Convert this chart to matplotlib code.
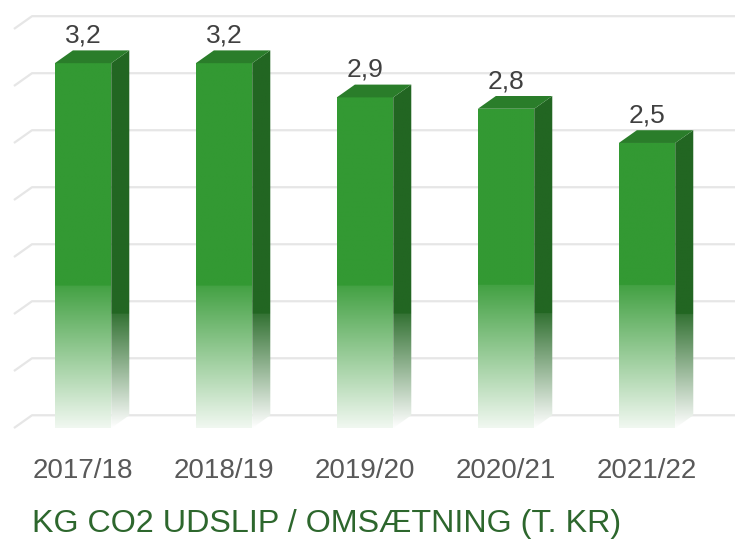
import matplotlib.pyplot as plt
import numpy as np
from matplotlib.patches import Polygon

periods = ["2017/18", "2018/19", "2019/20", "2020/21", "2021/22"]
co2_per_turnover = [3.2, 3.2, 2.9, 2.8, 2.5]
value_labels = ["3,2", "3,2", "2,9", "2,8", "2,5"]
grid_values = [0, 0.5, 1.0, 1.5, 2.0, 2.5, 3.0, 3.5]
title = "KG CO2 UDSLIP / OMSÆTNING (T. KR)"

plt.rcParams['font.family'] = ['Liberation Sans', 'DejaVu Sans']

front_col = np.array([0x33, 0x99, 0x33]) / 255
side_col = np.array([0x22, 0x66, 0x22]) / 255
top_col = np.array([0x2a, 0x7d, 0x2a]) / 255
white = np.array([1.0, 1.0, 1.0])

bar_w = 0.4
dx, dy = 0.128, 0.112      # fake depth of the 3d bars, in data units
wall_left = -0.362


def fade(color, ys, start, floor, top_a=0.92):
    t = np.clip(ys / start, 0, 1)
    a = np.where(t >= 1, 1.0, floor + (top_a - floor) * t)
    rgb = white[None, :] * (1 - a[:, None]) + color[None, :] * a[:, None]
    return rgb[:, None, :]


fig = plt.figure(figsize=(7.35, 5.4), dpi=100)
ax = fig.add_axes([0, 0, 1, 1])
ax.axis("off")

# back wall gridlines
for g in grid_values:
    ax.plot([wall_left - dx, wall_left, 4.7], [g, g + dy, g + dy],
            color="#e6e6e6", lw=1.6, zorder=1, solid_capstyle="butt")

for i, v in enumerate(co2_per_turnover):
    x0, x1 = i - bar_w / 2, i + bar_w / 2
    ys = np.linspace(0, v + dy, 400)

    side = Polygon([(x1, 0), (x1 + dx, dy), (x1 + dx, v + dy), (x1, v)],
                   closed=True, fc="none", ec="none")
    ax.add_patch(side)
    im = ax.imshow(fade(side_col, ys, 1.0, 0.0, 0.92), origin="lower",
                   extent=[x1, x1 + dx, 0, v + dy], aspect="auto", zorder=2,
                   interpolation="bilinear")
    im.set_clip_path(side)

    front = Polygon([(x0, 0), (x1, 0), (x1, v), (x0, v)],
                    closed=True, fc="none", ec="none")
    ax.add_patch(front)
    ys_f = np.linspace(0, v, 400)
    im = ax.imshow(fade(front_col, ys_f, 1.25, 0.07, 0.92), origin="lower",
                   extent=[x0, x1, 0, v], aspect="auto", zorder=3,
                   interpolation="bilinear")
    im.set_clip_path(front)

    ax.add_patch(Polygon([(x0, v), (x0 + dx, v + dy), (x1 + dx, v + dy), (x1, v)],
                         closed=True, fc=top_col, ec="none", zorder=3))

    ax.text(i, v + dy + 0.07, value_labels[i], ha="center", va="baseline",
            fontsize=19, color="#404040")
    ax.text(i, -0.44, periods[i], ha="center", va="baseline",
            fontsize=20, color="#595959")

ax.set_xlim(-0.589, 4.624)
ax.set_ylim(-0.982, 3.754)

fig.text(32 / 735, 8 / 540, title, ha="left", va="baseline",
         fontsize=23.2, color="#2d672d")

fig.savefig("out.png", dpi=100)
